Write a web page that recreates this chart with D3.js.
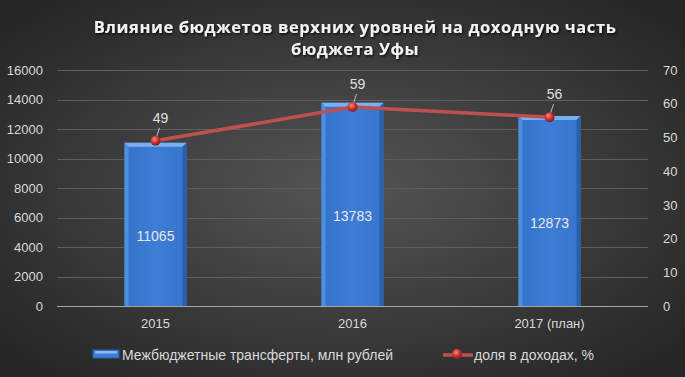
<!DOCTYPE html>
<html>
<head>
<meta charset="utf-8">
<script src="https://cdn.jsdelivr.net/npm/d3@7"></script>
<style>
  body { margin: 0; background: #333; }
  svg { display: block; font-family: "Liberation Sans", Arial, sans-serif; }
</style>
</head>
<body>
<div id="chart"></div>
<script>
// data
var years = ["2015", "2016", "2017 (план)"];
var transfers = [11065, 13783, 12873];
var share = [49, 59, 56];
var leftTicks = [0, 2000, 4000, 6000, 8000, 10000, 12000, 14000, 16000];
var rightTicks = [0, 10, 20, 30, 40, 50, 60, 70];

var width = 685, height = 377;
var margin = {top: 70, right: 37, bottom: 71, left: 57};

var svg = d3.select("#chart").append("svg")
  .attr("width", width)
  .attr("height", height);

var defs = svg.append("defs");

//Background gradient
var bg = defs.append("radialGradient").attr("id", "bg")
  .attr("cx", "50%").attr("cy", "50%").attr("r", "65%");
bg.append("stop").attr("offset", "0%").attr("stop-color", "#555555");
bg.append("stop").attr("offset", "100%").attr("stop-color", "#262626");

var barGrad = defs.append("linearGradient").attr("id", "barGrad")
  .attr("x1", "0%").attr("x2", "100%").attr("y1", "0%").attr("y2", "0%");
barGrad.append("stop").attr("offset", "0%").attr("stop-color", "#3572c8");
barGrad.append("stop").attr("offset", "50%").attr("stop-color", "#3d7dd6");
barGrad.append("stop").attr("offset", "100%").attr("stop-color", "#3874cc");

var dot = defs.append("radialGradient").attr("id", "dot")
  .attr("cx", "40%").attr("cy", "35%").attr("r", "65%");
dot.append("stop").attr("offset", "0%").attr("stop-color", "#f08a8a");
dot.append("stop").attr("offset", "60%").attr("stop-color", "#c0302e");
dot.append("stop").attr("offset", "100%").attr("stop-color", "#8a1a18");

var shadow = defs.append("filter").attr("id", "tshadow")
  .attr("x", "-10%").attr("y", "-30%").attr("width", "120%").attr("height", "160%");
shadow.append("feDropShadow").attr("dx", 1).attr("dy", 1.5).attr("stdDeviation", 1.2)
  .attr("flood-color", "#000").attr("flood-opacity", 0.8);

svg.append("rect").attr("width", width).attr("height", height).attr("fill", "url(#bg)");

//Title
var title = svg.append("text")
  .attr("text-anchor", "middle")
  .attr("fill", "#f2f2f2")
  .style("font-family", "'Open Sans', sans-serif")
  .style("font-weight", "bold")
  .style("font-size", "16.5px")
  .style("letter-spacing", "0.6px")
  .attr("filter", "url(#tshadow)");
title.append("tspan").attr("x", 355).attr("y", 33).text("Влияние бюджетов верхних уровней на доходную часть");
title.append("tspan").attr("x", 355).attr("y", 55).text("бюджета Уфы");

var x0 = margin.left, x1 = 648;

//Scales
var x = d3.scaleBand()
  .domain(years)
  .range([x0, x1])
  .paddingInner(0.685).paddingOuter(0.3425);

var yL = d3.scaleLinear().domain([0, 16000]).range([height - margin.bottom, margin.top]);
var yR = d3.scaleLinear().domain([0, 70]).range([height - margin.bottom, margin.top]);

//Gridlines
svg.append("g").selectAll("line")
  .data(leftTicks.filter(function(d) { return d > 0; }))
  .enter().append("line")
  .attr("x1", x0).attr("x2", x1)
  .attr("y1", function(d) { return Math.round(yL(d)) + 0.5; })
  .attr("y2", function(d) { return Math.round(yL(d)) + 0.5; })
  .attr("stroke", "#5e5e5e").attr("stroke-width", 1);

//Left axis
var axisL = svg.append("g")
  .attr("transform", "translate(" + (x0 - 14) + ",0)")
  .call(d3.axisLeft(yL).tickValues(leftTicks).tickFormat(d3.format("d")).tickSize(0).tickPadding(0));
axisL.select(".domain").remove();
axisL.selectAll("text").attr("fill", "#d9d9d9").style("font-size", "13px");

//Right axis
var axisR = svg.append("g")
  .attr("transform", "translate(" + (x1 + 15) + ",0)")
  .call(d3.axisRight(yR).tickValues(rightTicks).tickSize(0).tickPadding(0));
axisR.select(".domain").remove();
axisR.selectAll("text").attr("fill", "#d9d9d9").style("font-size", "13px");

//Category axis
var axisB = svg.append("g")
  .attr("transform", "translate(0," + yL(0) + ")")
  .call(d3.axisBottom(x).tickSize(0).tickPadding(13));
axisB.select(".domain").remove();
axisB.selectAll("text").attr("fill", "#d9d9d9").style("font-size", "13px");

//Bars
var bars = svg.append("g").selectAll("g")
  .data(transfers)
  .enter().append("g");

bars.append("rect")
  .attr("x", function(d, i) { return x(years[i]); })
  .attr("y", function(d) { return yL(d); })
  .attr("width", x.bandwidth())
  .attr("height", function(d) { return yL(0) - yL(d); })
  .attr("fill", "url(#barGrad)");

//bevel: top light strip, side strips
var bev = 4;
bars.append("path")
  .attr("d", function(d, i) {
    var bx = x(years[i]), by = yL(d), w = x.bandwidth();
    return "M" + bx + "," + by + "L" + (bx + w) + "," + by +
      "L" + (bx + w - bev) + "," + (by + bev) + "L" + (bx + bev) + "," + (by + bev) + "Z";
  })
  .attr("fill", "#7ab0f0");
bars.append("path")
  .attr("d", function(d, i) {
    var bx = x(years[i]), by = yL(d);
    return "M" + bx + "," + by + "L" + (bx + bev) + "," + (by + bev) +
      "L" + (bx + bev) + "," + yL(0) + "L" + bx + "," + yL(0) + "Z";
  })
  .attr("fill", "#4f8fe0");
bars.append("path")
  .attr("d", function(d, i) {
    var bx = x(years[i]), by = yL(d), w = x.bandwidth();
    return "M" + (bx + w) + "," + by + "L" + (bx + w - bev) + "," + (by + bev) +
      "L" + (bx + w - bev) + "," + yL(0) + "L" + (bx + w) + "," + yL(0) + "Z";
  })
  .attr("fill", "#2a5fae");

bars.append("text")
  .attr("x", function(d, i) { return x(years[i]) + x.bandwidth() / 2; })
  .attr("y", function(d) { return (yL(d) + yL(0)) / 2 + 12; })
  .attr("dy", "0.35em")
  .attr("text-anchor", "middle")
  .attr("fill", "#e8e8e8")
  .style("font-size", "14px")
  .text(function(d) { return d; });

//Base line
svg.append("line")
  .attr("x1", x0).attr("x2", x1)
  .attr("y1", yL(0) + 0.5).attr("y2", yL(0) + 0.5)
  .attr("stroke", "#a6a6a6").attr("stroke-width", 1);

//Share line
var line = d3.line()
  .x(function(d, i) { return x(years[i]) + x.bandwidth() / 2; })
  .y(function(d) { return yR(d); });

svg.append("path")
  .datum(share)
  .attr("d", line)
  .attr("fill", "none")
  .attr("stroke", "#c0504d")
  .attr("stroke-width", 3.5);

//leader lines
svg.append("g").selectAll("line")
  .data(share)
  .enter().append("line")
  .attr("x1", function(d, i) { return x(years[i]) + x.bandwidth() / 2 + 1; })
  .attr("y1", function(d) { return yR(d) - 4; })
  .attr("x2", function(d, i) { return x(years[i]) + x.bandwidth() / 2 + 4; })
  .attr("y2", function(d) { return yR(d) - 13; })
  .attr("stroke", "#bfbfbf").attr("stroke-width", 1);

svg.append("g").selectAll("circle")
  .data(share)
  .enter().append("circle")
  .attr("cx", function(d, i) { return x(years[i]) + x.bandwidth() / 2; })
  .attr("cy", function(d) { return yR(d); })
  .attr("r", 5)
  .attr("fill", "url(#dot)");

svg.append("g").selectAll("text")
  .data(share)
  .enter().append("text")
  .attr("x", function(d, i) { return x(years[i]) + x.bandwidth() / 2 + 5; })
  .attr("y", function(d) { return yR(d) - 23; })
  .attr("dy", "0.35em")
  .attr("text-anchor", "middle")
  .attr("fill", "#e0e0e0")
  .style("font-size", "14px")
  .text(function(d) { return d; });

//Legend
var legend = svg.append("g").attr("transform", "translate(0,355)");
legend.append("rect")
  .attr("x", 93).attr("y", -5).attr("width", 26).attr("height", 8)
  .attr("fill", "#3d7dd6").attr("stroke", "#2a5fae");
legend.append("rect")
  .attr("x", 95).attr("y", -4).attr("width", 22).attr("height", 2.5)
  .attr("fill", "#8ab8f2");
legend.append("text")
  .attr("x", 122).attr("y", 0).attr("dy", "0.35em")
  .attr("fill", "#d9d9d9").style("font-size", "14px")
  .text("Межбюджетные трансферты, млн рублей");

legend.append("line")
  .attr("x1", 443).attr("x2", 473).attr("y1", 0).attr("y2", 0)
  .attr("stroke", "#c0504d").attr("stroke-width", 3.5);
legend.append("circle")
  .attr("cx", 457).attr("cy", -1).attr("r", 5)
  .attr("fill", "url(#dot)");
legend.append("text")
  .attr("x", 474).attr("y", 0).attr("dy", "0.35em")
  .attr("fill", "#d9d9d9").style("font-size", "14px")
  .text("доля в доходах, %");
</script>
</body>
</html>
